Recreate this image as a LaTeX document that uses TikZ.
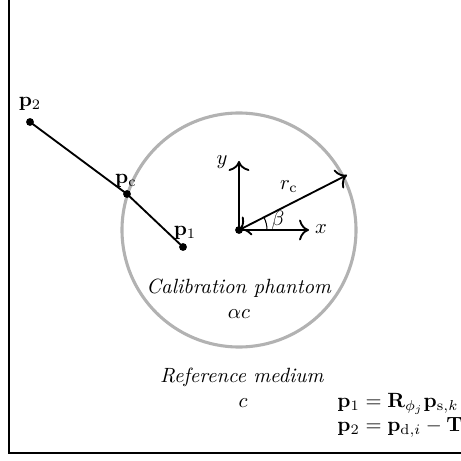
\documentclass[tikz,border=0pt]{standalone}
\usepackage{amsmath}
\usetikzlibrary{calc,arrows.meta}
\begin{document}
\begin{tikzpicture}[x=0.4854pt,y=-0.4854pt,>={To[scale=1.35]},
  dotstyle/.style={circle,fill=black,inner sep=0pt,minimum size=3.8pt},
  lbl/.style={inner sep=1pt},
  axis/.style={line width=0.9pt,->},
  seg/.style={line width=0.9pt},
  phantom/.style={draw=gray!60,line width=1.5pt}]
\useasboundingbox (0,0) rectangle (461,461);
\clip (0,0) rectangle (461,461);
% frame
\draw[line width=0.8pt] (9,-20) -- (9,453) -- (480,453);
% phantom circle
\node[phantom,circle,minimum size=234*0.4854pt,inner sep=0pt] (circ) at (239,230) {};
% origin and axes
\node[dotstyle] (o) at (239,230) {};
\coordinate (ytip) at (239,161);
\coordinate (xtip) at (309,230);
\coordinate (rtip) at (347,175);
\draw[axis] (o.center) -- (ytip);
\draw[axis] (o.center) -- (xtip);
\draw[line width=0.9pt,<->] (o.center) -- (rtip);
\draw[line width=0.5pt] ($(o.center)+(28,0)$) arc[start angle=0,end angle=27,radius=28*0.4854pt];
\node[lbl] (ylab) at (222,162) {$y$};
\node[lbl] (xlab) at (321,229) {$x$};
\node[lbl] (rlab) at (289,187) {$r_\mathrm{c}$};
\node[lbl] (blab) at (278,220) {$\beta$};
% ray
\node[dotstyle] (p2) at (30,122) {};
\node[dotstyle] (pc) at (127,194) {};
\node[dotstyle] (p1) at (183,247) {};
\draw[seg] (p2.center) -- (pc.center) -- (p1.center);
\node[lbl] (p2lab) at (30,104) {$\mathbf{p}_2$};
\node[lbl] (pclab) at (126,181) {$\mathbf{p}_\mathrm{c}$};
\node[lbl] (p1lab) at (185,233) {$\mathbf{p}_1$};
% texts
\node[lbl,anchor=base] (cal) at (239,293) {\textit{Calibration phantom}};
\node[lbl,anchor=base] (ac) at (239,318) {$\alpha c$};
\node[lbl,anchor=base] (ref) at (242,382) {\textit{Reference medium}};
\node[lbl,anchor=base] (cc) at (243,407) {$c$};
\node[inner sep=0pt,anchor=base west] (eq1) at (337,407) {$\mathbf{p}_1 = \mathbf{R}_{\phi_j}\mathbf{p}_{\mathrm{s},k}$};
\node[inner sep=0pt,anchor=base west] (eq2) at (337,431) {$\mathbf{p}_2 = \mathbf{p}_{\mathrm{d},i} - \mathbf{T}$};
\end{tikzpicture}
\end{document}
